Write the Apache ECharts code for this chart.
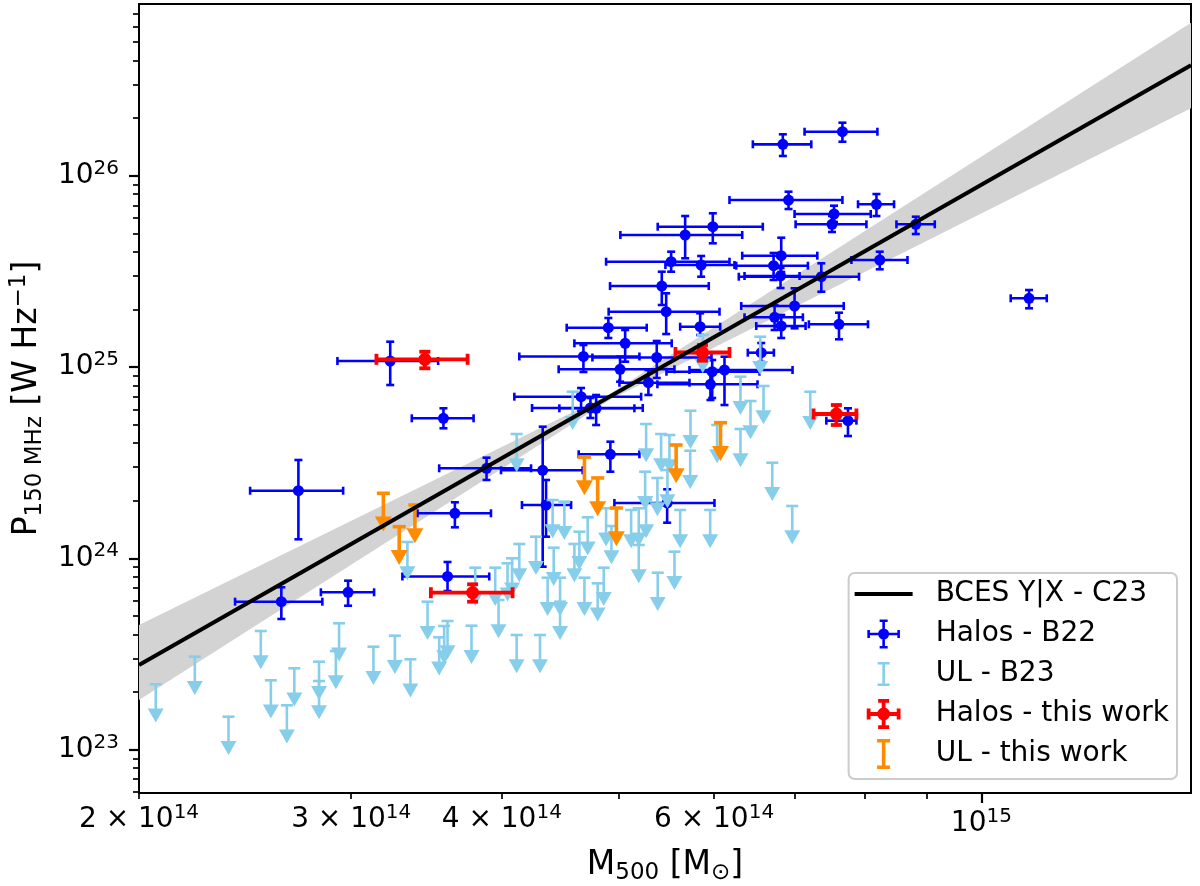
<!DOCTYPE html>
<html>
<head>
<meta charset="utf-8">
<title>P150 - M500</title>
<script src="https://cdn.jsdelivr.net/npm/echarts@6/dist/echarts.min.js"></script>
<style>
html, body { margin: 0; padding: 0; background: #fff; }
#chart { width: 1200px; height: 886px; }
</style>
</head>
<body>
<div id="chart"></div>
<script>
// mass in units of 1e14 Msun, power in units of 1e24 W/Hz
var MASS_UNIT = 1e14;
var POWER_UNIT = 1e24;

// axis extent
var massRange = [2.0, 14.925];
var powerRange = [0.0593, 790];

// tick positions
var xLabelMass = [2, 3, 4, 6];
var xMinorMass = [2, 3, 4, 5, 6, 7, 8, 9];
var xMajorMass = [10];
var yMajorPower = [0.1, 1, 10, 100];

// Halos - B22
var b22Mass   = [7.668, 6.843, 6.918, 8.183, 7.546, 7.517, 8.822, 5.986, 5.678, 6.822, 8.235, 5.528, 5.854, 6.723, 6.813, 7.365, 10.953, 5.430, 5.476, 6.998, 6.736, 7.618, 6.822, 4.903, 5.843, 5.063, 4.675, 5.378, 3.232, 5.014, 5.293, 5.979, 6.121, 5.959, 6.566, 4.654, 4.738, 4.790, 3.578, 3.885, 4.325, 2.712, 4.922, 5.486, 3.657, 4.353, 7.750, 3.606, 2.625, 2.982];
var b22MassLo = [7.133, 6.462, 6.180, 7.900, 6.998, 7.012, 8.502, 5.388, 5.017, 6.332, 7.801, 4.882, 5.468, 6.260, 6.360, 6.291, 10.576, 4.919, 4.906, 6.320, 6.360, 7.192, 6.504, 4.528, 5.624, 4.595, 4.136, 4.756, 2.922, 4.459, 5.008, 5.479, 5.725, 5.385, 6.400, 4.097, 4.238, 4.465, 3.368, 3.549, 3.994, 2.473, 4.633, 4.960, 3.405, 4.157, 7.436, 3.308, 2.403, 2.831];
var b22MassHi = [8.198, 7.225, 7.668, 8.463, 8.094, 8.028, 9.148, 6.586, 6.332, 7.309, 8.683, 6.180, 6.239, 7.179, 7.065, 7.915, 11.330, 5.940, 6.063, 7.687, 7.110, 8.052, 7.147, 5.276, 6.071, 5.534, 5.203, 5.971, 3.542, 5.563, 5.725, 6.545, 6.971, 6.520, 6.727, 5.220, 5.236, 5.153, 3.790, 4.230, 4.668, 2.954, 5.203, 6.005, 3.918, 4.566, 7.876, 3.905, 2.839, 3.134];
var b22Power   = [169.8, 145.9, 74.6, 70.9, 63.07, 55.71, 55.71, 54.13, 48.98, 38.19, 36.26, 35.52, 34.14, 33.85, 29.91, 29.65, 22.86, 26.50, 19.46, 20.84, 18.19, 16.72, 16.38, 16.05, 16.24, 13.30, 11.35, 11.21, 10.75, 9.727, 8.279, 9.450, 9.645, 8.122, 11.88, 6.995, 6.105, 6.083, 5.392, 2.954, 2.884, 2.256, 3.498, 1.946, 1.719, 1.899, 5.241, 0.8034, 0.5931, 0.6640];
var b22PowerLo = [150.5, 126.8, 66.97, 61.56, 57.28, 50.78, 49.57, 44.33, 37.01, 31.38, 32.42, 31.49, 29.65, 28.50, 25.88, 24.75, 20.27, 21.09, 14.87, 15.93, 15.61, 13.96, 14.18, 14.18, 14.70, 10.66, 9.416, 8.762, 8.053, 8.380, 7.140, 6.886, 6.328, 6.722, 10.62, 5.888, 5.412, 4.975, 4.782, 2.567, 0.904, 1.257, 2.836, 1.535, 1.452, 1.297, 4.358, 0.6745, 0.4817, 0.5651];
var b22PowerHi = [189.3, 164.6, 82.5, 80.2, 69.7, 61.56, 61.05, 63.6, 61.56, 47.42, 40.07, 40.07, 38.05, 39.45, 32.93, 34.84, 25.26, 31.49, 24.28, 25.78, 21.09, 19.22, 18.70, 18.04, 19.09, 15.61, 13.03, 13.68, 13.56, 11.32, 9.645, 10.88, 11.32, 9.416, 13.35, 7.768, 6.886, 7.140, 6.083, 3.357, 4.875, 3.265, 4.070, 2.295, 1.962, 2.567, 6.083, 0.9565, 0.7055, 0.7637];

// UL - B23 (upper limits)
var ulB23Mass  = [2.065, 2.225, 2.373, 2.524, 2.573, 2.653, 2.691, 2.821, 2.821, 2.931, 2.913, 3.130, 3.261, 3.359, 3.340, 3.471, 3.606, 3.583, 3.549, 3.775, 3.802, 3.950, 3.975, 4.044, 4.079, 4.115, 4.115, 4.136, 4.270, 4.303, 4.366, 4.408, 4.417, 4.471, 4.471, 4.508, 4.580, 4.595, 4.639, 4.684, 4.713, 4.804, 4.860, 4.882, 4.932, 5.121, 5.196, 5.196, 5.260, 5.270, 5.270, 5.388, 5.385, 5.423, 5.489, 5.510, 5.563, 5.624, 5.733, 5.736, 5.872, 5.956, 6.036, 6.311, 6.311, 6.433, 6.554, 6.595, 6.706, 6.967, 7.211];
var ulB23Power = [0.2195, 0.3059, 0.1486, 0.4169, 0.2302, 0.1704, 0.2661, 0.2880, 0.2283, 0.4572, 0.3277, 0.3450, 0.3939, 0.2965, 1.217, 0.5931, 0.4701, 0.4427, 0.3864, 0.4443, 0.8931, 0.8931, 0.6053, 0.9416, 1.000, 4.464, 0.3972, 1.188, 1.297, 0.3972, 0.7918, 2.017, 1.136, 0.7918, 0.5931, 1.977, 7.427, 1.188, 1.377, 0.7918, 1.638, 0.7401, 0.8931, 1.826, 1.475, 1.789, 1.826, 1.174, 2.836, 5.035, 2.017, 0.8408, 2.630, 4.464, 2.894, 4.410, 1.083, 1.789, 3.652, 5.908, 14.70, 1.789, 4.975, 4.742, 8.899, 6.642, 14.40, 7.957, 3.160, 1.877, 7.427];

// Halos - this work
var ownMass    = [3.453, 5.869, 7.580, 3.783];
var ownMassLo  = [3.148, 5.574, 7.257, 3.493];
var ownMassHi  = [3.747, 6.180, 7.876, 4.083];
var ownPower   = [10.97, 11.91, 5.680, 0.6608];
var ownPowerLo = [9.844, 10.79, 4.975, 0.5931];
var ownPowerHi = [12.02, 13.03, 6.328, 0.7312];

// UL - this work
var ulOwnMass  = [3.190, 3.288, 3.388, 4.684, 4.804, 4.979, 5.581, 6.075];
var ulOwnPower = [2.187, 1.463, 1.899, 3.384, 2.630, 1.832, 3.912, 5.115];

// BCES Y|X fit and its confidence band
var fitMass  = [2.0, 14.925];
var fitPower = [0.2769, 377.6];
var bandMass = [2.0, 4.919, 14.925];
var bandLow  = [0.1817, 6.746, 225.0];
var bandHigh = [0.4480, 7.254, 630.3];

var FONT = 'DejaVu Sans';
var ARROW_DEX = 0.2;

function lm(v) { return Math.log10(v * MASS_UNIT); }
function lp(v) { return Math.log10(v * POWER_UNIT); }

function haloRows(m, mlo, mhi, p, plo, phi) {
    return m.map(function (v, i) {
        return [lm(v), lm(mlo[i]), lm(mhi[i]), lp(p[i]), lp(plo[i]), lp(phi[i])];
    });
}

function limitRows(m, p) {
    return m.map(function (v, i) { return [lm(v), lp(p[i])]; });
}

function haloItem(color, lw, cap, radius) {
    return function (params, api) {
        var x = api.value(0), y = api.value(3);
        var c = api.coord([x, y]);
        var l = api.coord([api.value(1), y]);
        var r = api.coord([api.value(2), y]);
        var lo = api.coord([x, api.value(4)]);
        var hi = api.coord([x, api.value(5)]);
        var st = { stroke: color, lineWidth: lw };
        var h = cap / 2;
        function seg(x1, y1, x2, y2) {
            return { type: 'line', shape: { x1: x1, y1: y1, x2: x2, y2: y2 }, style: st };
        }
        return {
            type: 'group',
            children: [
                seg(l[0], c[1], r[0], c[1]),
                seg(c[0], hi[1], c[0], lo[1]),
                seg(l[0], c[1] - h, l[0], c[1] + h),
                seg(r[0], c[1] - h, r[0], c[1] + h),
                seg(c[0] - h, hi[1], c[0] + h, hi[1]),
                seg(c[0] - h, lo[1], c[0] + h, lo[1]),
                { type: 'circle', shape: { cx: c[0], cy: c[1], r: radius }, style: { fill: color } }
            ]
        };
    };
}

function limitItem(color, lw, cap, headW, headH) {
    return function (params, api) {
        var x = api.value(0), y = api.value(1);
        var top = api.coord([x, y]);
        var tip = api.coord([x, y - ARROW_DEX]);
        var st = { stroke: color, lineWidth: lw };
        return {
            type: 'group',
            children: [
                { type: 'line', shape: { x1: top[0] - cap / 2, y1: top[1], x2: top[0] + cap / 2, y2: top[1] }, style: st },
                { type: 'line', shape: { x1: top[0], y1: top[1], x2: tip[0], y2: tip[1] - headH + 1 }, style: st },
                { type: 'polygon', shape: { points: [[tip[0] - headW / 2, tip[1] - headH], [tip[0] + headW / 2, tip[1] - headH], [tip[0], tip[1]]] }, style: { fill: color } }
            ]
        };
    };
}

function bandItem(params, api) {
    var upper = bandMass.map(function (m, i) { return api.coord([lm(m), lp(bandHigh[i])]); });
    var lower = bandMass.map(function (m, i) { return api.coord([lm(m), lp(bandLow[i])]); }).reverse();
    return { type: 'polygon', shape: { points: upper.concat(lower) }, style: { fill: '#d3d3d3' } };
}

// legend glyphs, drawn in a 76 x 30 box
var BOX = 'M0 0 M76 30 ';
function rect(x0, y0, x1, y1) {
    return 'M' + x0 + ' ' + y0 + ' L' + x1 + ' ' + y0 + ' L' + x1 + ' ' + y1 + ' L' + x0 + ' ' + y1 + ' Z ';
}
function dot(cx, cy, r) {
    return 'M' + (cx - r) + ' ' + cy + ' A' + r + ' ' + r + ' 0 1 1 ' + (cx + r) + ' ' + cy +
        ' A' + r + ' ' + r + ' 0 1 1 ' + (cx - r) + ' ' + cy + ' Z ';
}
function crossIcon(t, cap, r, top, bottom) {
    var cx = 29, cy = 15, h = t / 2, k = cap / 2;
    return 'path://' + BOX +
        rect(14, cy - h, 44, cy + h) + rect(cx - h, top, cx + h, bottom) +
        rect(14 - h, cy - k, 14 + h, cy + k) + rect(44 - h, cy - k, 44 + h, cy + k) +
        rect(cx - k, top, cx + k, top + t) + rect(cx - k, bottom - t, cx + k, bottom) +
        dot(cx, cy, r);
}
function barIcon(t, cap, top, bottom) {
    var cx = 29, h = t / 2, k = cap / 2;
    return 'path://' + BOX + rect(cx - h, top, cx + h, bottom) +
        rect(cx - k, top, cx + k, top + t) + rect(cx - k, bottom - t, cx + k, bottom);
}

var tickRich = {
    b: { fontSize: 28, lineHeight: 30, fontFamily: FONT, color: '#000' },
    s: { fontSize: 20, lineHeight: 20, padding: [0, 0, 14, 0], fontFamily: FONT, color: '#000' }
};
var nameRich = {
    n: { fontSize: 33, lineHeight: 36, fontFamily: FONT, color: '#000' },
    sb: { fontSize: 23, lineHeight: 24, padding: [16, 0, 0, 0], fontFamily: FONT, color: '#000' },
    sp: { fontSize: 23, lineHeight: 24, padding: [0, 0, 16, 0], fontFamily: FONT, color: '#000' }
};

var xMin = lm(massRange[0]), xMax = lm(massRange[1]);
var yMin = lp(powerRange[0]), yMax = lp(powerRange[1]);

var yMinor = [];
for (var e = 22; e <= 26; e++) {
    for (var k = 2; k <= 9; k++) {
        var v = e + Math.log10(k);
        if (v >= yMin && v <= yMax) yMinor.push(v);
    }
}

var option = {
    animation: false,
    backgroundColor: '#fff',
    textStyle: { fontFamily: FONT },
    grid: {
        left: 139, right: 9, top: 4, bottom: 93,
        show: true, borderColor: '#000', borderWidth: 2,
        backgroundColor: 'transparent',
        outerBoundsMode: 'none'
    },
    legend: {
        orient: 'vertical',
        right: 23, bottom: 107,
        itemWidth: 76, itemHeight: 30, itemGap: 10,
        padding: [6, 8, 10, 6],
        backgroundColor: 'rgba(255,255,255,0.8)',
        borderColor: '#cccccc', borderWidth: 2, borderRadius: 6,
        selectedMode: false,
        symbolKeepAspect: true,
        itemStyle: { borderWidth: 0 },
        textStyle: { fontSize: 28, lineHeight: 30, fontFamily: FONT, color: '#000' },
        data: [
            { name: 'BCES Y|X - C23', icon: 'path://' + BOX + rect(0, 13, 58, 17) },
            { name: 'Halos - B22', icon: crossIcon(2.6, 8, 5.5, 0.5, 29.5) },
            { name: 'UL - B23', icon: barIcon(2.6, 12, 3, 27) },
            { name: 'Halos - this work', icon: crossIcon(3.8, 11, 6.5, 0, 30) },
            { name: 'UL - this work', icon: barIcon(3.6, 13, 0, 30) }
        ]
    },
    xAxis: [
        {
            type: 'value', position: 'bottom', min: xMin, max: xMax,
            splitLine: { show: false },
            axisLine: { show: false, onZero: false },
            axisTick: { show: true, inside: false, length: 10, lineStyle: { color: '#000', width: 2.2 },
                customValues: xMajorMass.map(lm) },
            axisLabel: { show: true, margin: 16, customValues: xMajorMass.map(lm),
                formatter: function (v) { return '{b|10}{s|' + Math.round(v) + '}'; },
                rich: tickRich },
            name: '{n|M}{sb|500}{n| [M}{sb|\u2299}{n|]}',
            nameLocation: 'middle', nameGap: 51,
            nameTextStyle: { fontSize: 33, fontFamily: FONT, color: '#000', rich: nameRich }
        },
        {
            type: 'value', position: 'bottom', min: xMin, max: xMax,
            splitLine: { show: false },
            axisLine: { show: false, onZero: false },
            axisTick: { show: true, inside: false, length: 6, lineStyle: { color: '#000', width: 1.7 },
                customValues: xMinorMass.map(lm) },
            axisLabel: { show: true, margin: 12, customValues: xLabelMass.map(lm),
                formatter: function (v) {
                    var m = Math.round(Math.pow(10, v - 14));
                    return '{b|' + m + ' \u00d7 10}{s|14}';
                },
                rich: tickRich }
        }
    ],
    yAxis: [
        {
            type: 'value', position: 'left', min: yMin, max: yMax,
            splitLine: { show: false },
            axisLine: { show: false, onZero: false },
            axisTick: { show: true, inside: false, length: 10, lineStyle: { color: '#000', width: 2.2 },
                customValues: yMajorPower.map(lp) },
            axisLabel: { show: true, margin: 20, customValues: yMajorPower.map(lp),
                formatter: function (v) { return '{b|10}{s|' + Math.round(v) + '}'; },
                rich: tickRich },
            name: '{n|P}{sb|150 MHz}{n| [W Hz}{sp|\u22121}{n|]}',
            nameLocation: 'middle', nameGap: 91, nameRotate: 90,
            nameTextStyle: { fontSize: 33, fontFamily: FONT, color: '#000', rich: nameRich }
        },
        {
            type: 'value', position: 'left', min: yMin, max: yMax,
            splitLine: { show: false },
            axisLine: { show: false, onZero: false },
            axisTick: { show: true, inside: false, length: 6, lineStyle: { color: '#000', width: 1.7 },
                customValues: yMinor },
            axisLabel: { show: false }
        }
    ],
    series: [
        {
            name: 'band', type: 'custom', clip: true,
            renderItem: bandItem,
            data: [[lm(bandMass[0]), lp(bandLow[0])]],
            encode: { x: 0, y: 1 },
            silent: true, z: 1
        },
        {
            name: 'Halos - B22', type: 'custom', clip: true,
            itemStyle: { color: '#0000ff' },
            renderItem: haloItem('#0000ff', 2.6, 8, 5.5),
            data: haloRows(b22Mass, b22MassLo, b22MassHi, b22Power, b22PowerLo, b22PowerHi),
            encode: { x: 0, y: 3 }
        },
        {
            name: 'UL - B23', type: 'custom', clip: true,
            itemStyle: { color: '#87ceeb' },
            renderItem: limitItem('#87ceeb', 2.6, 12, 16, 14),
            data: limitRows(ulB23Mass, ulB23Power),
            encode: { x: 0, y: 1 }
        },
        {
            name: 'Halos - this work', type: 'custom', clip: true,
            itemStyle: { color: '#ff0000' },
            renderItem: haloItem('#ff0000', 3.8, 11, 6.5),
            data: haloRows(ownMass, ownMassLo, ownMassHi, ownPower, ownPowerLo, ownPowerHi),
            encode: { x: 0, y: 3 }
        },
        {
            name: 'UL - this work', type: 'custom', clip: true,
            itemStyle: { color: '#ff8c00' },
            renderItem: limitItem('#ff8c00', 3.6, 13, 17, 15),
            data: limitRows(ulOwnMass, ulOwnPower),
            encode: { x: 0, y: 1 }
        },
        {
            name: 'BCES Y|X - C23', type: 'line',
            color: '#000',
            showSymbol: false, symbol: 'none',
            lineStyle: { color: '#000', width: 4 },
            itemStyle: { color: '#000' },
            data: fitMass.map(function (m, i) { return [lm(m), lp(fitPower[i])]; }),
            z: 5
        }
    ]
};

var chart = echarts.init(document.getElementById('chart'));
chart.setOption(option);
</script>
</body>
</html>
